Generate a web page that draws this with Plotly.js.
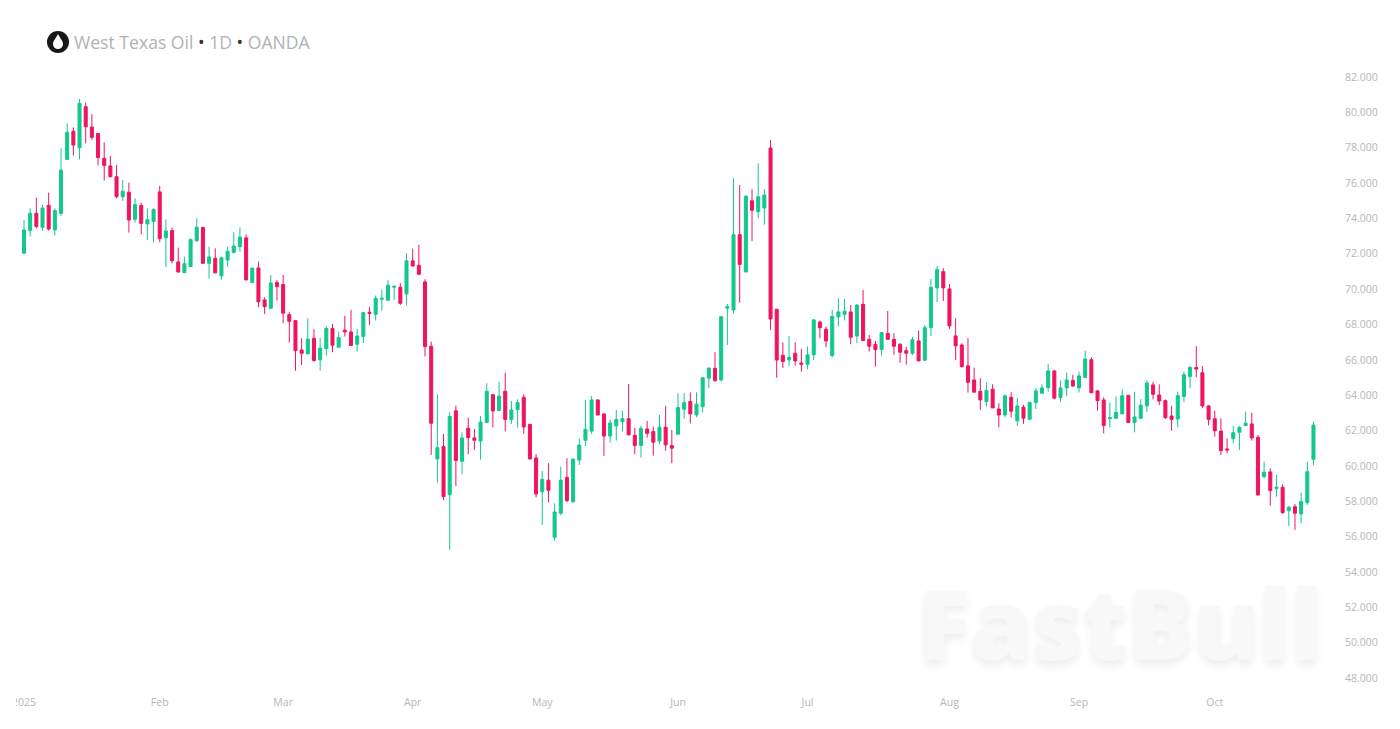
<!DOCTYPE html>
<html><head><meta charset="utf-8">
<script src="https://cdn.plot.ly/plotly-3.0.1.min.js"></script>
<style>html,body{margin:0;padding:0;background:#fff;overflow:hidden}#c{width:1400px;height:729px}</style>
</head><body><div id="c"></div>
<script>
const opens=[72.03,73.31,74.29,73.50,74.74,73.35,74.29,77.34,78.93,78.00,
80.32,79.17,78.81,77.40,76.97,76.36,75.23,75.48,73.95,74.74,
73.69,73.82,75.50,72.90,73.31,71.54,70.93,71.28,72.74,73.48,
71.46,71.75,70.75,71.65,72.07,72.41,72.90,70.37,71.20,69.39,
68.92,70.37,70.26,68.56,68.22,66.56,66.34,67.22,66.00,66.64,
67.77,66.71,67.68,67.58,66.88,67.32,68.69,68.58,69.43,69.37,
70.11,70.11,69.73,71.60,71.35,70.41,66.77,60.39,61.09,58.37,
63.12,60.26,62.13,61.58,61.41,62.45,64.03,63.14,64.22,62.63,
63.18,63.88,62.35,60.45,58.53,59.19,55.96,57.32,59.35,57.96,
60.33,61.45,61.97,63.73,62.94,61.69,62.26,62.50,62.67,61.73,
61.15,62.09,61.94,61.41,62.19,61.15,61.79,63.20,63.64,62.88,
63.35,64.96,65.52,64.86,68.92,68.82,73.08,70.97,75.00,74.38,
74.59,77.98,68.86,66.26,65.99,66.37,65.82,65.75,66.28,68.14,
67.73,66.24,68.43,68.58,68.71,67.35,69.14,67.16,66.88,66.58,
67.50,67.16,66.88,66.52,66.37,67.07,65.98,67.82,70.07,70.99,
70.01,67.35,66.84,65.66,64.86,64.22,63.64,64.34,63.22,62.88,
63.88,62.55,63.32,62.64,63.58,64.11,64.43,65.37,63.86,64.41,
64.83,64.41,65.00,66.01,64.24,63.73,62.67,62.69,62.94,63.99,
62.45,62.69,63.39,64.58,64.01,63.69,62.82,62.65,63.92,65.05,
65.56,65.27,63.39,62.67,61.97,60.96,61.54,61.90,62.28,62.37,
61.62,59.39,59.66,58.71,58.79,57.47,57.69,57.28,57.92,60.37];
const highs=[73.91,74.57,75.18,74.76,75.46,74.57,77.97,79.38,79.15,80.75,
80.55,79.89,78.81,78.30,77.53,77.02,76.17,76.02,75.14,74.89,
74.57,74.57,75.84,73.95,73.48,72.35,71.84,72.87,74.01,73.54,
72.40,72.31,71.84,72.40,73.22,73.50,73.10,71.22,71.56,69.54,
70.80,70.52,70.80,68.69,68.26,67.22,68.35,67.73,67.22,67.92,
68.03,67.60,68.49,68.82,67.75,68.67,68.98,69.64,69.96,70.52,
70.18,70.33,72.03,72.29,72.50,70.56,67.03,64.05,61.81,63.03,
63.41,61.90,62.73,62.09,62.82,64.67,64.05,64.76,65.27,63.67,
63.77,64.05,62.35,60.67,59.71,60.15,57.88,59.96,60.43,60.39,
61.54,63.73,63.95,63.77,62.97,62.63,63.16,63.12,64.63,62.16,
62.28,62.54,62.22,62.88,63.39,62.03,64.11,64.11,64.16,64.16,
64.99,65.54,66.43,68.44,69.16,76.27,75.89,75.32,75.66,77.11,
75.66,78.43,68.86,66.99,67.35,66.99,66.62,66.75,68.29,68.22,
67.88,68.82,69.48,69.44,69.10,69.14,69.95,67.41,67.07,67.56,
68.77,67.50,66.94,66.75,67.31,67.65,67.97,70.58,71.31,71.18,
70.29,68.35,66.94,67.22,65.56,64.96,64.71,64.62,63.54,64.05,
64.17,63.83,63.45,63.64,64.39,64.62,65.77,65.43,64.83,65.28,
65.15,65.34,66.52,66.14,64.29,63.88,63.58,63.92,64.33,64.01,
64.20,63.78,64.82,64.76,64.61,63.76,63.39,64.20,65.33,65.65,
66.78,65.65,63.44,63.12,62.69,61.56,62.26,62.26,63.07,63.01,
61.75,60.24,59.86,59.49,58.96,57.73,57.85,58.49,60.24,62.50];
const lows=[72.00,72.97,73.44,73.31,73.31,73.03,74.14,77.34,77.55,77.34,
78.25,78.44,77.00,76.14,76.33,75.14,74.99,73.20,73.76,73.10,
72.78,72.65,72.65,71.24,71.46,70.93,70.93,71.24,72.67,71.46,
70.59,70.90,70.52,71.27,72.03,72.12,70.52,70.37,68.98,68.60,
68.86,69.35,68.07,66.98,65.38,65.71,66.32,65.90,65.39,66.24,
66.43,66.71,67.32,66.81,66.47,66.94,67.98,68.22,68.77,69.35,
69.39,69.11,69.07,71.28,70.84,66.19,60.62,59.05,58.07,55.25,
58.86,59.52,60.66,60.90,60.35,62.45,62.18,63.14,61.94,62.37,
62.16,61.81,60.39,58.22,56.66,57.94,55.77,57.22,57.94,57.96,
60.05,61.13,61.81,62.88,60.56,61.32,61.43,61.94,61.75,60.66,
60.47,61.60,60.58,61.22,60.85,60.15,61.79,62.66,62.41,62.75,
63.03,64.39,64.77,64.77,66.84,68.63,69.24,70.97,72.72,74.00,
73.65,67.69,64.99,65.54,65.64,65.67,65.33,65.47,65.99,67.22,
66.71,66.13,67.88,68.22,66.88,66.94,67.09,66.47,65.62,66.24,
67.16,66.28,65.84,65.73,66.28,65.94,65.98,67.35,69.26,69.33,
67.75,65.99,65.56,64.15,64.15,63.17,63.36,63.28,62.19,62.75,
62.75,62.26,62.38,62.64,63.22,64.11,64.20,63.77,63.60,63.96,
64.49,64.15,65.00,64.14,63.12,61.84,62.18,62.69,62.94,62.45,
61.90,62.69,63.05,63.76,63.44,62.65,61.99,62.18,63.60,64.39,
65.01,63.26,62.29,61.65,60.62,60.71,61.28,60.90,62.26,61.43,
58.35,59.30,57.75,58.26,57.28,56.60,56.38,56.75,57.79,60.05];
const closes=[73.35,74.29,73.54,74.59,73.40,74.44,76.74,78.87,78.15,80.51,
79.19,78.59,77.44,76.99,76.36,75.23,75.53,73.91,74.78,73.72,
73.93,74.50,72.86,73.29,71.61,70.97,71.44,72.80,73.50,71.46,
71.82,70.92,71.77,72.14,72.44,72.95,70.52,71.18,69.28,69.01,
70.35,70.14,68.64,68.18,66.53,66.37,67.17,65.96,66.66,67.77,
66.83,67.26,67.58,66.81,67.35,68.67,68.62,69.48,69.48,70.22,
70.16,69.20,71.60,71.31,70.84,66.75,62.41,61.03,58.26,62.79,
60.30,61.58,61.60,61.45,62.48,64.22,63.11,63.95,62.63,63.16,
63.58,62.20,60.39,58.41,59.24,58.62,57.39,59.19,58.04,60.39,
61.18,62.07,63.73,62.88,61.69,62.43,62.62,62.67,61.75,61.15,
62.12,61.84,61.34,62.19,61.19,61.00,63.30,63.58,62.94,63.49,
64.99,65.54,64.82,68.44,69.01,73.08,71.40,75.25,74.46,75.23,
75.32,68.31,65.99,65.90,66.14,65.94,65.75,66.28,68.26,67.82,
67.07,68.46,68.71,68.75,67.28,69.10,67.09,66.77,66.58,67.54,
67.16,66.77,66.43,66.37,67.13,65.94,67.82,70.10,71.10,70.07,
67.92,66.79,65.62,64.73,64.17,63.73,64.26,63.28,62.88,63.96,
63.09,63.39,62.70,63.58,64.24,64.41,65.37,63.83,64.41,64.86,
64.52,65.09,66.05,64.14,63.69,62.29,62.73,63.03,63.97,62.45,
62.77,63.44,64.69,64.05,63.67,62.73,62.63,63.97,65.16,65.57,
65.48,63.39,62.63,61.99,60.86,60.90,61.88,62.18,62.41,61.58,
58.35,59.64,58.60,58.79,57.36,57.66,57.32,57.98,59.67,62.31];
const sessions=opens.map((_,i)=>i);
const monthSessions=[0,22,42,63,84,106,127,150,171,193];
const monthLabels=['2025','Feb','Mar','Apr','May','Jun','Jul','Aug','Sep','Oct'];
const priceTicks=[48,50,52,54,56,58,60,62,64,66,68,70,72,74,76,78,80,82];
const UP='#12c98a', DOWN='#f0145f', AXIS='#b4b7bc';

const trace={type:'candlestick',x:sessions,open:opens,high:highs,low:lows,close:closes,
  increasing:{line:{color:UP,width:1},fillcolor:UP},
  decreasing:{line:{color:DOWN,width:1},fillcolor:DOWN},
  whiskerwidth:0,hoverinfo:'skip',showlegend:false};

const layout={
  width:1400,height:729,autosize:false,
  paper_bgcolor:'#fff',plot_bgcolor:'#fff',
  margin:{l:0,r:60,t:62,b:39,pad:0},
  showlegend:false,hovermode:false,dragmode:false,
  font:{family:'"Open Sans",sans-serif',color:AXIS,size:11},
  xaxis:{type:'linear',range:[-3.89,213.3],rangeslider:{visible:false},showgrid:false,zeroline:false,
    showline:false,tickmode:'array',tickvals:monthSessions,ticktext:monthLabels,ticks:'',ticklabelstandoff:4,
    tickfont:{size:10.5,color:AXIS}},
  yaxis:{side:'right',range:[47.32,82.85],showgrid:false,zeroline:false,showline:false,
    tickmode:'array',tickvals:priceTicks,tickformat:'.3f',ticks:'',ticklabelstandoff:4,
    tickfont:{size:10.5,color:AXIS}},
  annotations:[
    {xref:'paper',yref:'paper',x:72/1340,y:(690-42)/628,xanchor:'left',yanchor:'middle',showarrow:false,
     text:'West Texas Oil <span style="color:#333">•</span> 1D <span style="color:#333">•</span> OANDA',
     font:{family:'"Open Sans",sans-serif',size:17.6,color:'#b0b2b6'}},
    {xref:'paper',yref:'paper',x:1120/1340,y:(690-622)/628,xanchor:'center',yanchor:'middle',showarrow:false,
     text:'FastBull',
     font:{family:'"Open Sans",sans-serif',weight:800,size:98,color:'#f8f8f8',shadow:'0 5px 9px rgba(0,0,0,0.07)'}}
  ],
  shapes:[
    {type:'circle',xref:'paper',yref:'paper',xsizemode:'pixel',ysizemode:'pixel',xanchor:0,yanchor:(690-42)/628,
     x0:47,x1:69,y0:-11,y1:11,fillcolor:'#17181a',line:{width:0},layer:'above'},
    {type:'path',xref:'paper',yref:'paper',xsizemode:'pixel',ysizemode:'pixel',xanchor:0,yanchor:(690-42)/628,
     path:'M58,8 C60,4 63,1 63,-2 C63,-5 60.5,-7 58,-7 C55.5,-7 53,-5 53,-2 C53,1 56,4 58,8 Z',
     fillcolor:'#ffffff',line:{width:0},layer:'above'},
    {type:'rect',xref:'paper',yref:'paper',xsizemode:'pixel',ysizemode:'pixel',xanchor:0,yanchor:0,
     x0:0,x1:16,y0:-39,y1:0,fillcolor:'#ffffff',line:{width:0},layer:'above'}
  ]
};
Plotly.newPlot('c',[trace],layout,{displayModeBar:false,responsive:false,staticPlot:true});
</script></body></html>
